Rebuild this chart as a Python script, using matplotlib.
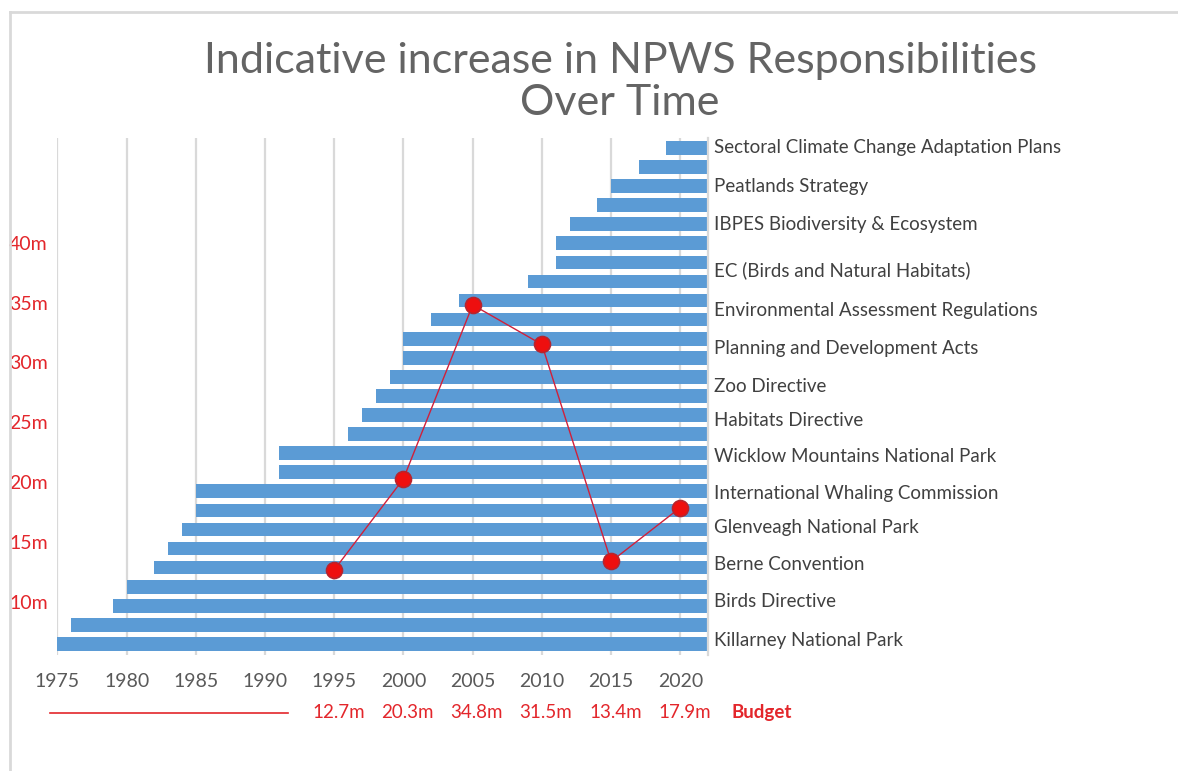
import matplotlib
matplotlib.use("Agg")
import matplotlib.pyplot as plt
from matplotlib.lines import Line2D
import numpy as np

plt.rcParams['font.family'] = ['Lato', 'DejaVu Sans']

# ---------------- data ----------------
# start year of each responsibility, listed from the top bar to the bottom bar
start_years = [2019, 2017, 2015, 2014, 2012, 2011, 2011, 2009, 2004, 2002,
               2000, 2000, 1999, 1998, 1997, 1996, 1991, 1991, 1985, 1985,
               1984, 1983, 1982, 1980, 1979, 1976, 1975]
end_year = 2022

# right-hand labels and the bar slot (0 = bottom bar) they sit against
resp_labels = ["Sectoral Climate Change Adaptation Plans", "Peatlands Strategy",
               "IBPES Biodiversity & Ecosystem", "EC (Birds and Natural Habitats)",
               "Environmental Assessment Regulations", "Planning and Development Acts",
               "Zoo Directive", "Habitats Directive", "Wicklow Mountains National Park",
               "International Whaling Commission", "Glenveagh National Park",
               "Berne Convention", "Birds Directive", "Killarney National Park"]
resp_label_slots = [26, 24, 22, 19.6, 17.5, 15.5, 13.5, 11.7, 9.8, 7.86, 6.08, 4.14, 2.2, 0.16]

budget_years = [1995, 2000, 2005, 2010, 2015, 2020]
budget_m = [12.7, 20.3, 34.8, 31.5, 13.4, 17.9]

year_ticks = [1975, 1980, 1985, 1990, 1995, 2000, 2005, 2010, 2015, 2020]
budget_ticks = [10, 15, 20, 25, 30, 35, 40]

# ---------------- style ----------------
BAR = '#5b9bd5'
GRID = '#d9d9d9'
GREY = '#595959'
RED = '#e3262b'

W, H = 1178, 771
fig = plt.figure(figsize=(W / 100, H / 100), dpi=100)
fig.patch.set_facecolor('white')

ax_l, ax_r = 57.4 / W, 708 / W
ax_top, ax_bot = 138 / H, 655 / H
ax = fig.add_axes([ax_l, 1 - ax_bot, ax_r - ax_l, ax_bot - ax_top])

n = len(start_years)
idx = np.arange(n)[::-1]  # top bar has highest index
starts = np.array(start_years)
ax.barh(idx, end_year - starts, left=starts, height=0.72, color=BAR, zorder=2)

ax.set_xlim(1975, end_year)
ax.set_ylim(-0.58, n - 1 + 0.52)
ax.set_xticks(year_ticks)
ax.set_xticklabels([str(y) for y in year_ticks], fontsize=14, color=GREY)
ax.tick_params(axis='x', length=0, pad=13)
ax.set_yticks([])
ax.grid(axis='x', color=GRID, linewidth=1.6, zorder=0)
for s in ['top', 'left', 'bottom']:
    ax.spines[s].set_visible(False)
ax.spines['right'].set_color(GRID)
ax.spines['right'].set_linewidth(1.6)

# right-hand labels
for lab, slot in zip(resp_labels, resp_label_slots):
    ax.text(end_year + 0.45, slot, lab, fontsize=13.5, color='#404040',
            va='center', ha='left', clip_on=False)

# budget overlay
ax2 = ax.twinx()
ax2.set_ylim(5.60, 48.72)
ax2.plot(budget_years, budget_m, color='#d0203a', linewidth=1.0, zorder=3)
ax2.plot(budget_years, budget_m, linestyle='none', marker='o', markersize=11.5,
         markerfacecolor='#ee0f0f', markeredgecolor='#b5252f', markeredgewidth=1.2, zorder=4)
ax2.yaxis.set_ticks_position('left')
ax2.set_yticks(budget_ticks)
ax2.set_yticklabels([f"{v}m" for v in budget_ticks], fontsize=14, color=RED)
ax2.tick_params(axis='y', length=0, pad=7)
for s in ax2.spines.values():
    s.set_visible(False)

# budget row under the axis
for yr, v in zip(budget_years, budget_m):
    ax.text(yr + 0.3, -0.112, f"{v}m", transform=ax.get_xaxis_transform(), fontsize=13.5,
            color=RED, ha='center', va='center', clip_on=False)
ax.text(2023.7, -0.112, "Budget", transform=ax.get_xaxis_transform(), fontsize=13.5,
        color=RED, ha='left', va='center', fontweight='bold', clip_on=False)
fig.add_artist(Line2D([50 / W, 288 / W], [1 - 713 / H, 1 - 713 / H], color=RED, linewidth=1.2))

# title
fig.text(620 / W, 1 - 82 / H, "Indicative increase in NPWS Responsibilities\nOver Time",
         ha='center', va='center', fontsize=31, color='#646464', fontweight='normal',
         linespacing=1.12)

# frame lines of the pasted figure
fig.add_artist(Line2D([10 / W, 1], [1 - 12 / H, 1 - 12 / H], color='#d9d9d9', linewidth=2))
fig.add_artist(Line2D([10 / W, 10 / W], [0, 1 - 12 / H], color='#d9d9d9', linewidth=2))

fig.savefig("out.png", dpi=100)
